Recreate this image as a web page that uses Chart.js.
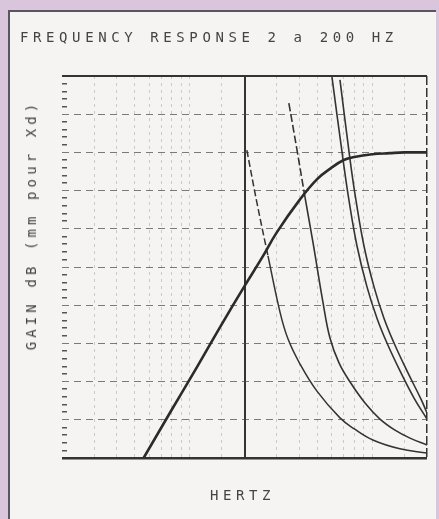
<!DOCTYPE html>
<html>
<head>
<meta charset="utf-8">
<script src="https://cdn.jsdelivr.net/npm/chart.js@4.4.1/dist/chart.umd.min.js"></script>
<style>
  html, body { margin: 0; padding: 0; }
  body { width: 439px; height: 519px; background: #d9c5dc; position: relative; overflow: hidden;
         font-family: "DejaVu Sans Mono", monospace; color: #444; }
  #panel { position: absolute; left: 8px; top: 10px; width: 426px; height: 520px; background: #f6f4f2;
           border-left: 2px solid #5a5560; border-top: 2px solid #5a5560; }
  #chart { position: absolute; left: 0; top: 0; }
  .lbl { position: absolute; font-size: 14px; line-height: 14px; letter-spacing: 4.6px; white-space: nowrap; }
  #title { left: 20px; top: 30px; }
  #xlabel { left: 210px; top: 488px; }
  #ylabel { left: 31px; top: 225px; transform: translate(-50%, -50%) rotate(-90deg); letter-spacing: 4.1px; }
</style>
</head>
<body>
<div id="panel"></div>
<canvas id="chart" width="439" height="519"></canvas>
<div class="lbl" id="title">FREQUENCY RESPONSE 2 a 200 HZ</div>
<div class="lbl" id="ylabel">GAIN dB (mm pour Xd)</div>
<div class="lbl" id="xlabel">HERTZ</div>
<script>
// lignes verticales du papier log (Hz)
const gridFreqs = [2, 3, 4, 5, 6, 7, 8, 9, 10, 15, 20, 30, 40, 50, 60, 70, 80, 90, 100, 150, 200];

// courbe montante (trait fort)
const hpFreq = [5.6, 8, 10, 12, 15, 20, 25, 30, 40, 50, 60, 70, 80, 100, 125, 150, 200];
const hpGain = [0, 1.27, 2.05, 2.7, 3.5, 4.5, 5.25, 5.9, 6.75, 7.3, 7.6, 7.8, 7.88, 7.95, 7.98, 8.0, 8.0];

// courbes descendantes, de gauche a droite
const aFreq = [20.6, 23.4, 26.9, 31.3, 34.6, 40.3, 49.9, 66.7, 80, 101, 142, 200];
const aGain = [8.06, 6.68, 5.29, 3.82, 3.12, 2.46, 1.75, 1.05, 0.76, 0.47, 0.24, 0.13];

const bFreq = [35, 38.8, 42.9, 47.5, 53.8, 58.8, 65.9, 75.8, 91.5, 110.5, 133.6, 161.4, 200];
const bGain = [9.29, 8.06, 6.83, 5.63, 4.08, 3.14, 2.49, 1.99, 1.44, 1.02, 0.73, 0.52, 0.34];

const cFreq = [60.3, 69.4, 74.7, 82.7, 93.8, 106.4, 120.7, 142.3, 169.8, 200];
const cGain = [9.97, 7.8, 6.75, 5.55, 4.48, 3.66, 3.01, 2.28, 1.57, 1.02];

const dFreq = [66.7, 75.8, 81.6, 90.3, 102.5, 116.2, 131.9, 155.4, 185.4, 200];
const dGain = [9.9, 7.8, 6.75, 5.55, 4.48, 3.66, 3.01, 2.28, 1.54, 1.18];

// graduations de l'axe vertical (5 par division)
const gainTicks = [];
for (let i = 0; i <= 50; i++) gainTicks.push(i / 5);

function toPoints(freqs, gains) {
    return freqs.map((f, i) => ({ x: f, y: gains[i] }));
}

function isMajor(v) {
    return Math.abs(v - Math.round(v)) < 1e-6;
}

const ctx = document.getElementById('chart').getContext('2d');
new Chart(ctx, {
    type: 'line',
    data: {
        datasets: [
            { data: toPoints(hpFreq, hpGain), borderColor: '#2b2b2b', borderWidth: 2.6, tension: 0.4 },
            {
                data: toPoints(aFreq, aGain), borderColor: '#333', borderWidth: 1.5, tension: 0.4,
                segment: { borderDash: c => c.p0.parsed.y > 5.5 ? [7, 3] : undefined }
            },
            {
                data: toPoints(bFreq, bGain), borderColor: '#333', borderWidth: 1.6, tension: 0.4,
                segment: { borderDash: c => c.p0.parsed.y > 7.2 ? [8, 3] : undefined }
            },
            { data: toPoints(cFreq, cGain), borderColor: '#333', borderWidth: 1.6, tension: 0.4 },
            { data: toPoints(dFreq, dGain), borderColor: '#333', borderWidth: 1.6, tension: 0.4 }
        ]
    },
    options: {
        responsive: false,
        animation: false,
        layout: { padding: { left: 62, top: 76, right: 12, bottom: 61 } },
        plugins: {
            legend: { display: false },
            tooltip: { enabled: false }
        },
        elements: {
            point: { radius: 0 },
            line: { fill: false }
        },
        scales: {
            x: {
                type: 'logarithmic',
                min: 2,
                max: 200,
                afterBuildTicks: scale => { scale.ticks = gridFreqs.map(v => ({ value: v })); },
                ticks: { display: false },
                border: {
                    display: false,
                    dash: c => {
                        if (!c.tick) return [];
                        const v = c.tick.value;
                        if (v === 20) return [];
                        if (v === 200) return [9, 3];
                        return [3, 4];
                    }
                },
                grid: {
                    drawTicks: false,
                    color: c => {
                        if (!c.tick) return 'transparent';
                        const v = c.tick.value;
                        if (v === 2) return 'transparent';
                        if (v === 20 || v === 200) return '#333';
                        return 'rgba(120,120,120,0.35)';
                    },
                    lineWidth: c => {
                        if (!c.tick) return 1;
                        const v = c.tick.value;
                        if (v === 20) return 2;
                        if (v === 200) return 1.5;
                        return 1;
                    }
                }
            },
            y: {
                min: 0,
                max: 10,
                afterBuildTicks: scale => { scale.ticks = gainTicks.map(v => ({ value: v })); },
                ticks: { display: false },
                border: {
                    display: false,
                    dash: c => {
                        if (!c.tick) return [];
                        const v = c.tick.value;
                        if (v === 0 || v === 10) return [];
                        if (isMajor(v)) return [7, 5];
                        return [5, 1000];
                    }
                },
                grid: {
                    drawTicks: false,
                    color: c => {
                        if (!c.tick) return 'transparent';
                        const v = c.tick.value;
                        if (v === 0 || v === 10) return '#333';
                        if (isMajor(v)) return 'rgba(70,70,70,0.7)';
                        return '#555';
                    },
                    lineWidth: c => {
                        if (!c.tick) return 1;
                        const v = c.tick.value;
                        if (v === 0) return 2.5;
                        if (v === 10) return 2;
                        if (isMajor(v)) return 1;
                        return 1.5;
                    }
                }
            }
        }
    }
});
</script>
</body>
</html>
